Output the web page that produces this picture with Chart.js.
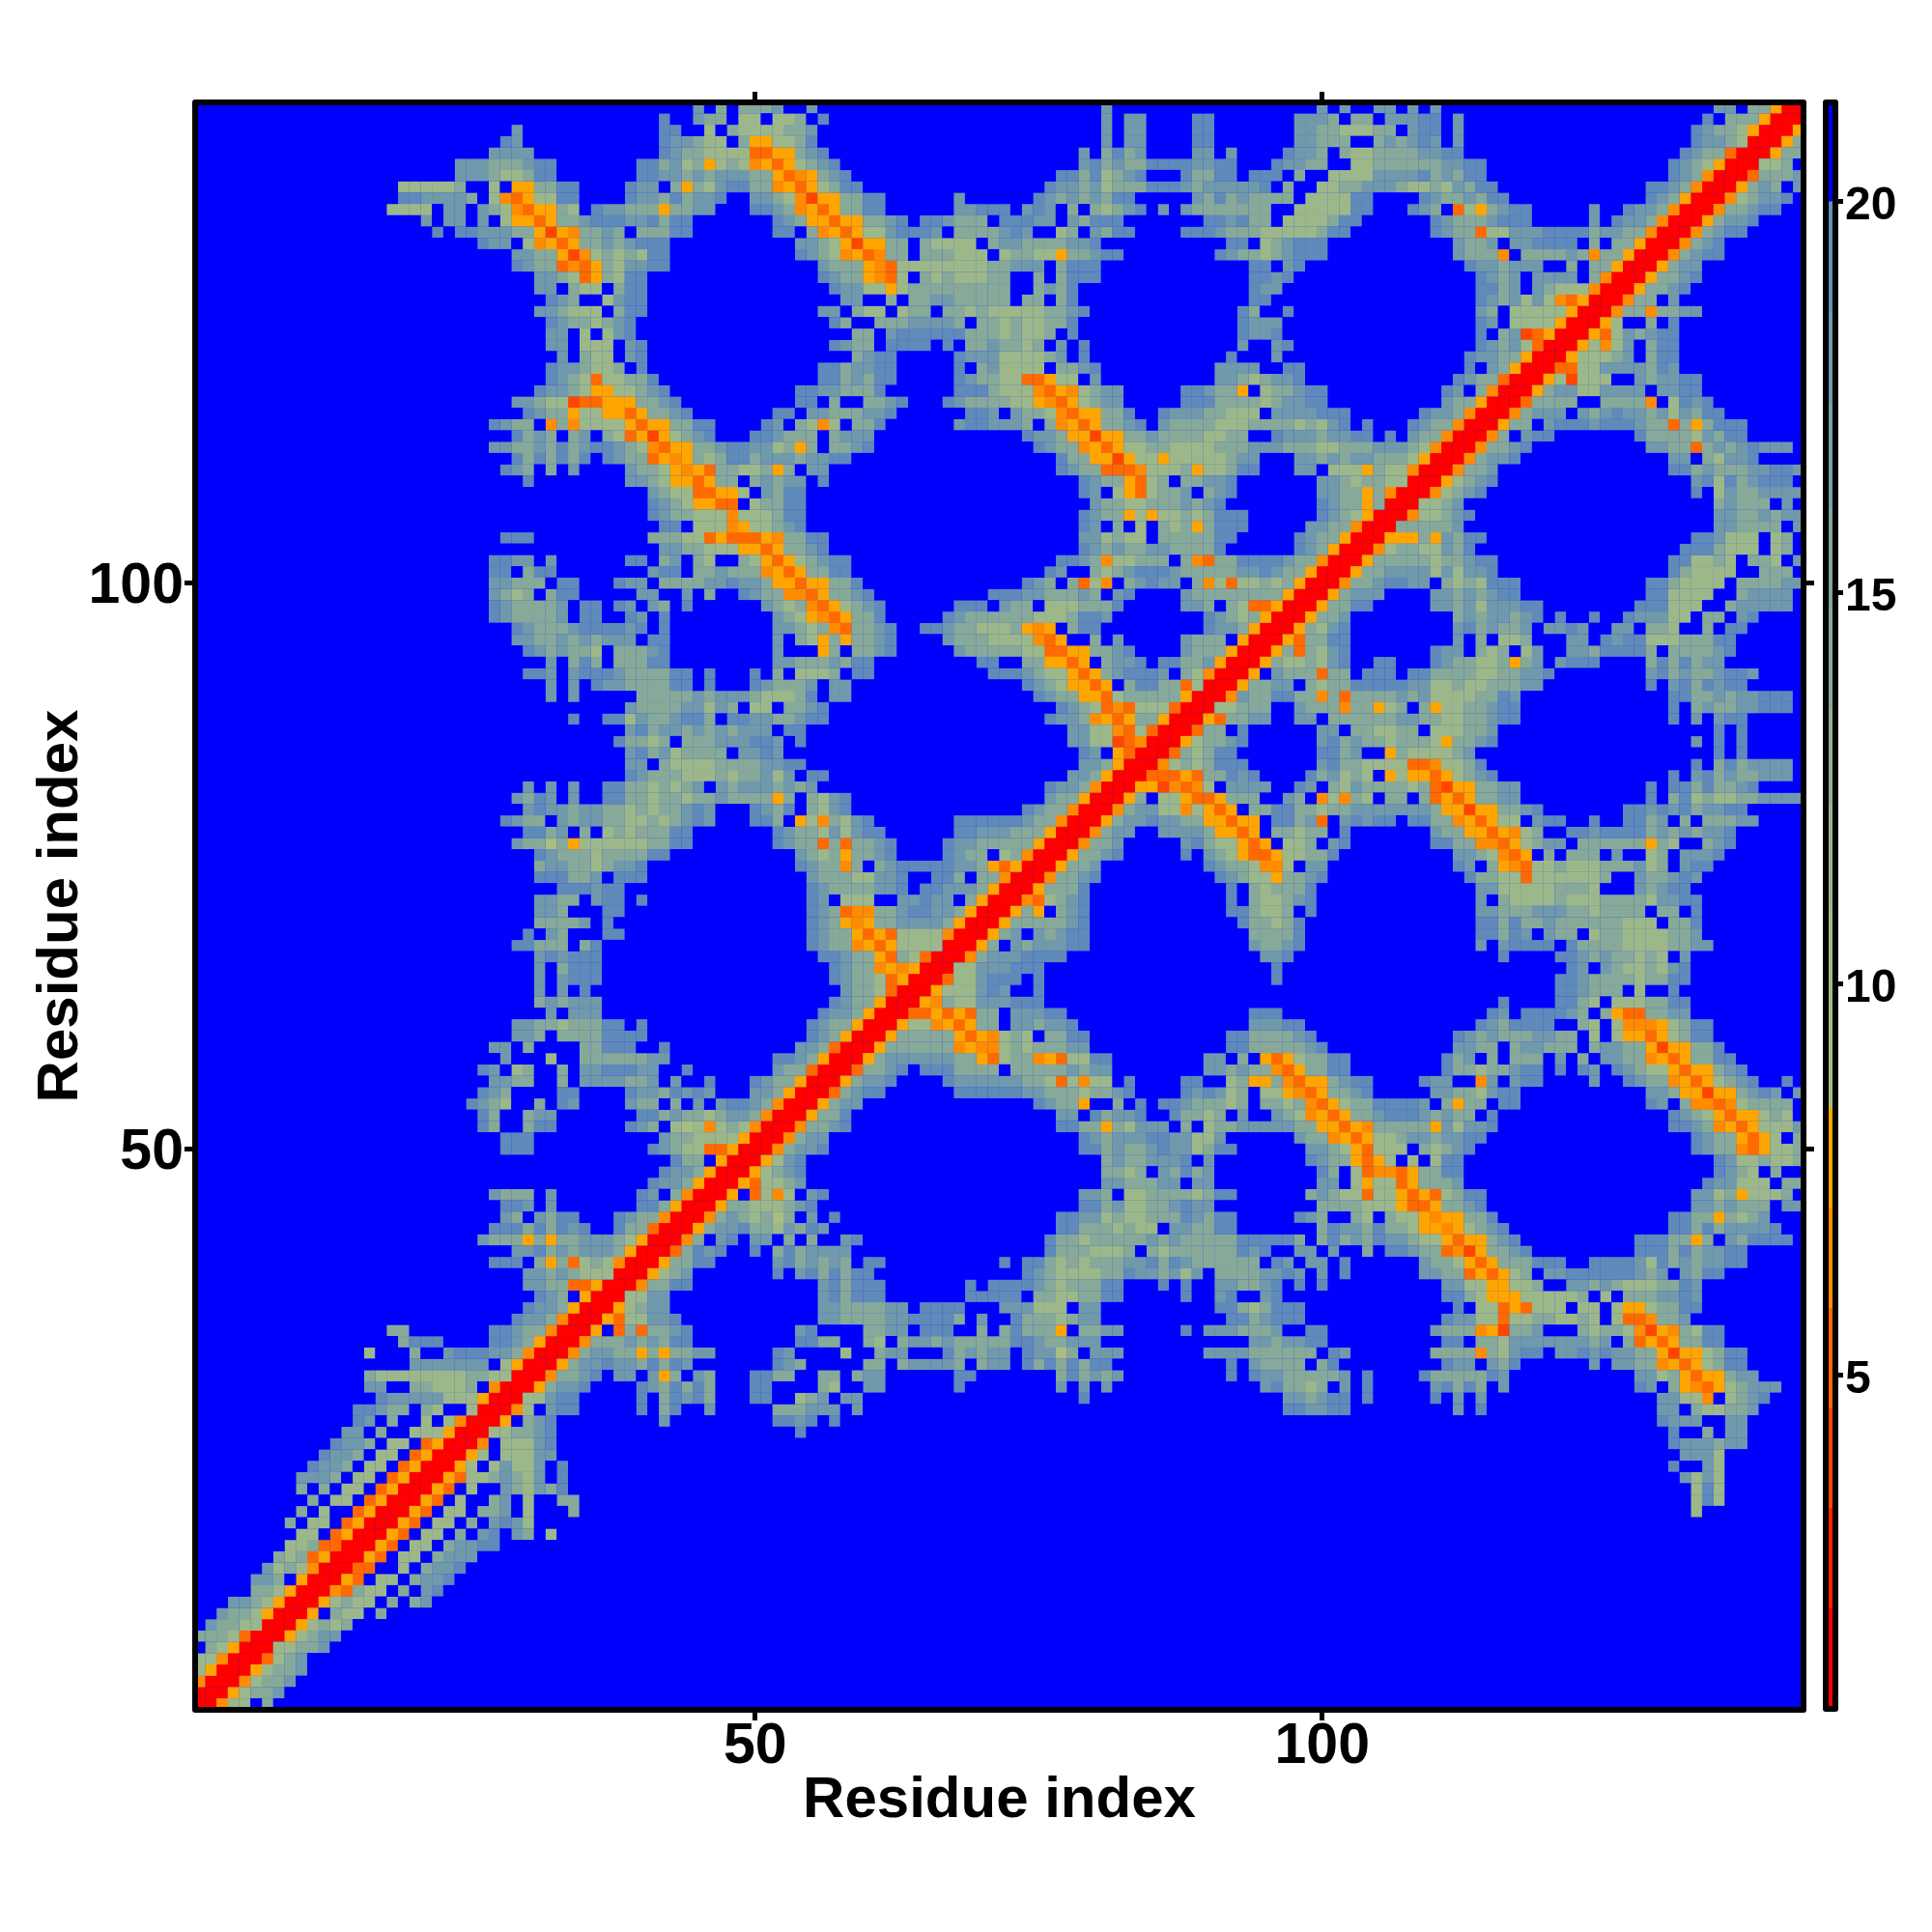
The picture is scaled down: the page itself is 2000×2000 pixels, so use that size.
<!DOCTYPE html>
<html>
<head>
<meta charset="utf-8">
<title>Residue distance map</title>
<script src="https://cdn.jsdelivr.net/npm/chart.js@4"></script>
<style>
  html, body { margin: 0; padding: 0; background: #fff; }
  canvas { position: absolute; top: 0; }
  #map { left: 0; }
  #bar { left: 1860px; }
</style>
</head>
<body>
<canvas id="map" width="2000" height="2000"></canvas>
<canvas id="bar" width="140" height="2000"></canvas>
<script>
// distance level of each cell code
const levelCodes = ['.', 'a', 'b', 'c', 'd', 'e', '1', '2', '3', '4', '5'];
const levelValues = [21, 19, 17, 14, 11, 9, 7.5, 6.5, 5.3, 4.2, 1.5];
const levelColors = ['#0000ff', '#5f8aba', '#7099ac', '#87a999', '#9cb88a', '#a8be7e', '#ffa500', '#ff8c00', '#ff6a00', '#ff4500', '#ff0000'];

const tickValues = [50, 100];
const barTickValues = [5, 10, 15, 20];
const barEdges = [0.74, 2.02, 3.3, 4.58, 5.86, 7.14, 8.42, 9.7, 11, 12.3, 13.5, 14.8, 16.1, 17.4, 18.6, 20, 21.27];
const barColors = ['#ff0000', '#ff2200', '#ff4500', '#ff6a00', '#ff8c00', '#ffa500', '#a6bd80', '#9fb986', '#97b38c', '#8fae92', '#87a898', '#7fa39e', '#779da5', '#6f98ab', '#648fb5', '#0000ff'];

const residueCount = 142;

// upper-left half of the symmetric map, top row (142) first.
// each segment is "firstColumn:cells"; anything not listed is blue.
const rowCells = [
  '45:b.c.cccb..b 81:b 100:b.b..bb.b.b 135:bb.cc155',
  '42:a 45:bcc.dd.ddc.a 81:b 83:bb 89:aa 98:bbbc.cc.bbbaa.b 134:a.ccc155',
  '29:b 42:aa 46:d.cddddccb 81:b 83:bb 89:aa 98:bbccdddcc.baa.b 133:abccd155',
  '28:ab 42:abbcdd.c11ddca 81:b 83:bb 89:aa 98:bbccc..cbcbab.b 133:abbcd55',
  '27:bbbb 42:abccdddd3311cba 79:b.cacb 89:bb.b 97:abbc.cddccccbbaa 132:abcc355',
  '24:bbbcccbaa 40:aacbdc1dcd2131dcba 79:bacbccaaaabbaa 96:abbcc..ddccccccbbaa 131:abcd155',
  '24:bbbcddcaa 40:aabbcbcbbbcc1321cba 77:aacadcba 88:accaa.aaa.c..ddddbbbbacbcaa 131:abc255',
  '19:dddddc..d.11ccaa 39:abb.c1cdbaacc2131dcaa 76:abbcbdcccaaabcbbbbba.c..ddccbbbcddcdbcaa 129:aabc255',
  '19:aabbbbc.d231ddaa 39:abbcacbba..bbcd2411ccaa 68:b 75:abcbcbcaa 89:bcacbcccc.ddddaa 109:abccbcaa 129:abc155',
  '18:dddd.bb.bcd2311cd.abbccc1ccbb 50:aabc2131ccaa 68:bbaaa.bab.c.cdcba.b.bccccccc..dddddaa 108:abc.3d1cbaa 124:b 127:abbc255',
  '21:b.bb.b.d1131ccbaaabbacaa 52:abc11311ccba.aabccc.aaabb.bcaaa 90:aabacc.ddddcaa 110:abcccbaaa 124:b 126:abbc255',
  '22:a.aabbbcc1412ccbc.cccaa 52:aa.c2131ddbaaab.ccccbab..dc.bcaa 88:aaabcccdddddcaa 110:abcc3ddbbbaaaacbbcc255',
  '26:abb.d2131ccbcbaaa 54:bbcd1411cc.cdddd.cbbccccbba 92:aa.dcbaaa 112:bccb.bbaaaa.c.cc155',
  '29:bbcc142dcdcdaa 54:abcd2132cc.cccddd.dccdd1ccbaa 91:abccdcbaaa 112:bccc2.ccccbc2cc155',
  '29:abcc3231cdbbaa 56:bccc123ddddddddccbbb.caaa 94:aa.ba 113:abbcbbb..c.cc155',
  '31:bbcd31cdaa 56:abcc123d.cdcdddcc..c.caaa 94:aaba 114:abcb.bbbb.c255',
  '31:bb.cdd.caa 57:abbdd1dccccccccc..cbca 94:abb 114:aacb.bcddd255',
  '32:abc..dbaa 58:bb..c.ccbbccccc.cc.ca 94:aa 114:abcbdbd23155',
  '31:bbcddd.caa 56:bb.cdd.dcc.ccdcdddddccba 93:ac..a 114:bc.ddddd155',
  '32:abccdcba 57:ac..cccbbbbc.ccdcddcca 93:abbb 114:ab.dddd155',
  '32:bb.d.dba 59:cc.baaaaaacccdcddc.a 93:abba 114:a.cb43155',
  '32:bb.ddd.ba 57:abcc.aaaa.a.ccbccdc.b.a 93:b 96:ba 114:abcbd355',
  '33:b.cdd.ba 59:cbaa 68:abbbddddcb.a 92:a 96:b 113:abbcc155',
  '32:abbcddc.a 56:aacbbaa 68:a.cbdddd.ccba 91:bbbb 97:aa 113:a.bc155',
  '32:abcd3ddcca 56:aacbcaa 68:abccdd331dd.b 91:bbcdcbba 112:abcc355',
  '31:abbcd11ddcba 54:aabbccca 68:aaacddd2312dcbb 88:aabcc1.dccbaa 111:ab.c255',
  '29:bbcdd433111ccba 54:aa.c..ccba 67:abccccdd1231dcbb 88:aaaccccdcbbaa 111:bcc155',
  '30:abcc1dd1131ccba 52:aa.bbcccbba 69:aab.bccd2311cca 86:abbbccddd.bbbbaaa 109:abbc255',
  '27:abcc.2c2dddd1311ccaa 51:ab.cd2d.cca 68:baabbbc.c2131ccba.bccccdddccccdcdba.a 108:abcc255',
  '29:acbc.cb.cd3141dcba 50:aabccc.cbbb 74:abbc11411ccbccccddcc..abbbcbbaa.a.bcc255',
  '27:bbccbcacbaabcd2311ccbaabbdc1c.ccba 75:abcc2131ddccddddcccbbbcccddcccbbbcd255',
  '29:acacaca.abcc3121cdcaacbbbcbbaa 77:acc1141dd1dddddcbb...bbcbcbbcccd155',
  '28:abc.c.b 39:bccd1213ccddc1c.bb 77:abcc3332dddc1ddcaa 98:bb.ddd1cdd255',
  '30:a 39:bbcd1131cc.cbcbb 56:a 79:abcc13dc.ccbba 100:bbcdccdd55',
  '41:bcdd3311d.bcaa 79:ab.d13dccb.cba 100:bbcc1c255',
  '41:abcd1133.dccaa 80:bccddcccbcba 100:abcc1c55',
  '41:abccddd2dddcaa 79:abcc1d1ddcdcaaa 100:abcd155',
  '42:aa.ddd21ddcba 79:ab.c.d.cdc1caaa 99:bbcc255',
  '28:aaa 41:cccdd3133312ccaa 79:bbdcdd.cccccaa 98:abcc155',
  '42:bbccddd1131ccba 79:abcbccbbcccca 98:abc155',
  '27:aabb.b 39:aa.cb.cd..cd131dcbaa 77:aabc2ddccc.c23ccaaaabcc255',
  '27:aa.caa 41:baa.ccbccc2131ccaa 76:ab..cdcbaaabcccccbbabcc155',
  '27:bbccc.aa 38:abb.ccccbbabbc11311cca 74:abc.c3d2.cbabb.c2d3ddcdc155',
  '27:bcdc.caa 40:bb..b.c..abcc2231ccba 71:aaabbcccbc.ba 88:bcccccccc155',
  '27:abccccb.aa 38:ab.bc.a 51:bcdc231dcba 68:aaa.bcc.dddccca 88:bbc.cd33155',
  '27:abccccb.aa 39:ab.a 52:bcd1231cca 67:abccccccdddcaab 90:abcdc155',
  '29:abcccbaaaaba.a 52:bbcdc23ccba 65:aabccdddc121.caa 90:abbc155',
  '29:bbccbcbcbbb.aa 52:b.cd1c1ccba 67:bcccdddd231..c.b 88:bccc.155',
  '30:abcbccd.cccba 52:b...1c.ccba 68:bcccccdd3311ccba 88:bccc155',
  '32:b.cac.cccaa 52:bbcccbcaa 70:aa..cc1131.cbba.aaccb155',
  '30:aab.baaabccccaa.a 50:a.c.dddc.aa 71:aaabcdd131cbaaab.cd255',
  '32:b.b.abbccccaa.a 50:abcccb.bb 74:abcd1131.caacc3d55',
  '32:b.b 40:cccccbcbbbcdddca.bb 75:abcc113dccccc155',
  '39:bccccbbdbc.dd.ccba 77:abcd323ddd355',
  '34:a 37:aadbccbaac.aabbccbaa 76:abbc2131cc155',
  '39:bacbbcbcbcbbb.aa 78:bbdd23d355',
  '38:accdc.cccbbbaab.a 78:bbdd43255',
  '39:bacbdcccc.bbab 79:ab.1355',
  '39:bb.cddddccccbbaa 79:bbc155',
  '39:abcccdddcdccbdb.aa 78:bbc155',
  '30:b.b.b..aaccdcdcb.bcbbbcbcb 76:abbc255',
  '29:bcab.b..aaccdccdccbcccc1c.cdba 76:bcc155',
  '30:babbcbbccdcdccbab 50:abca.cdba 74:abcc255',
  '28:abcc.bcbbccddcdcbab 50:aac.1d2cdba 68:aaaaaabcc255',
  '30:aacb.c.dcdcccaa 52:abccdbdbaa 68:aabbbccc155',
  '29:bccec1ddddddccaa 52:abcc3c3ccba 67:abbccccc155',
  '31:abcccdccccaa 54:bcdc1ccba 67:abcc.dc255',
  '31:cbbccdcbba 54:abcc2c.cbaaaaabbc13155',
  '31:aaaccb.aaa 55:bcccddbba..aac.cc255',
  '33:aaabaa 55:abccccbba.aabbbc155',
  '31:bbcc.baa.a 55:ab.ddd..bbabb.c155',
  '31:bbc...aa 55:abc322ccbaabbc155',
  '31:ccccb.a 55:abc121ccbbbbc155',
  '30:a.bc...aa 55:abcc1313dddd255',
  '29:aaccc.ca 55:abcc2131dddd55',
  '31:babaaa 56:aabcc13cd355',
  '31:b.caaa 57:abcc212155',
  '31:b.baaa 57:abccd3155',
  '31:b.b.a 58:bccd355',
  '31:cbcbbb 57:abcc155',
  '32:b.bbb 56:abbc155',
  '29:bbccdcccaa.a 55:abcc155',
  '29:bbc.ccccaaaa 55:abc155',
  '27:bb.c....ccaaa..a 54:bbc355',
  '28:b 32:d 35:ccccccbb 52:aabc155',
  '26:ab.dc..c.bbaaabb 44:a 52:bcc355',
  '27:bbcc..c.bbbbccb.b..a 50:abcc155',
  '26:abc 33:aa 39:abbcabab 50:bbc155',
  '25:abcd..c.ab 39:bcc.c.b.baabc255',
  '26:ac..cbb 40:aacbccdcbbc255',
  '26:ac..caa 39:abc.ded2dcd255',
  '28:aaa 42:bccdddd155',
  '28:aaa 41:abcdd33155',
  '43:acc.155',
  '42:abbc155',
  '41:abbc155',
  '27:bccc.b 40:ab.c255',
  '28:aab.b 40:aac155',
  '28:bc.bcaa 38:abcc255',
  '27:aaacacaba 38:acc355',
  '26:bccc1c1ccbbbcd155',
  '29:bbacbcbbbc155',
  '27:aaa.c1c3dcd255',
  '30:bbcbcddd55',
  '30:bbcc33155',
  '31:abc.155',
  '30:abbc155',
  '29:abbc255',
  '18:cc 27:aabcc255',
  '19:caaa 27:aabc155',
  '16:d 20:c..baaabbc255',
  '20:bbbbbbb.d155',
  '16:cddddddddccdd55',
  '16:bb..ccdddc.255',
  '17:abbbbbddd155',
  '15:aabcc.cd..d55',
  '15:ab.c..d.d255',
  '14:bb.c..ddd155',
  '13:abbc.dd.3155',
  '12:abbc.dd.3155',
  '11:abbc.dd.3155',
  '10:bbbc.dd.3155',
  '10:c.c.dd.3155',
  '11:c.dd.3155',
  '10:c.d..3155',
  '9:c.dd.3155',
  '10:dd.3155',
  '9:ddc3355',
  '8:cdc3155',
  '7:bdcd255',
  '6:bbc.155',
  '6:ccd155',
  '4:bbcd155',
  '3:bccd155',
  '2:bccdd55',
  '1:cccd355',
  '2:cd155',
  '1:dd255',
  '1:d155',
  '1:255',
  '1:55',
  '1:5',
];

const fontFamily = '"Liberation Sans", Arial, Helvetica, sans-serif';

// code grid, index [row][column], both 1-based
function buildGrid() {
  const grid = [];
  for (let j = 0; j <= residueCount; j++) grid.push(new Array(residueCount + 1).fill('.'));
  rowCells.forEach((line, idx) => {
    const row = residueCount - idx;
    line.split(' ').forEach(seg => {
      const [first, cells] = seg.split(':');
      [...cells].forEach((code, k) => {
        const col = Number(first) + k;
        grid[row][col] = code;
        grid[col][row] = code;
      });
    });
  });
  return grid;
}

function buildDatasets(grid) {
  return levelCodes.map((code, li) => {
    const points = [];
    for (let row = 1; row <= residueCount; row++) {
      for (let col = 1; col <= residueCount; col++) {
        if (grid[row][col] === code) points.push({ x: col, y: row, v: levelValues[li] });
      }
    }
    return {
      label: String(levelValues[li]),
      data: points,
      pointStyle: 'rect',
      pointRadius: 8.45,
      pointBorderWidth: 0,
      pointBackgroundColor: levelColors[li],
      showLine: false,
    };
  });
}

// blue under the cells so their soft edges don't show white seams
const plotBackground = {
  id: 'plotBackground',
  beforeDatasetsDraw(chart) {
    const { ctx, chartArea: a } = chart;
    ctx.save();
    ctx.fillStyle = levelColors[0];
    ctx.fillRect(a.left, a.top, a.right - a.left, a.bottom - a.top);
    ctx.restore();
  },
};

const framePlugin = {
  id: 'frame',
  afterDatasetsDraw(chart) {
    const { ctx, chartArea: a } = chart;
    ctx.save();
    ctx.strokeStyle = '#000';
    ctx.lineWidth = 6;
    ctx.lineJoin = 'round';
    ctx.strokeRect(a.left, a.top, a.right - a.left, a.bottom - a.top);
    ctx.restore();
  },
};

const setTicks = values => scale => { scale.ticks = values.map(v => ({ value: v })); };
const tickGrid = { drawOnChartArea: false, drawTicks: true, tickLength: 11, tickWidth: 5, tickColor: '#000' };
const noGrid = { drawOnChartArea: false, drawTicks: false };
const setSize = size => s => { if (s.isHorizontal()) s.height = size; else s.width = size; };

function axis(position, min, max, size, labels) {
  return {
    type: 'linear',
    position,
    min,
    max,
    afterBuildTicks: setTicks(tickValues),
    afterFit: setSize(size),
    grid: tickGrid,
    border: { display: false },
    ticks: {
      display: labels,
      autoSkip: false,
      maxRotation: 0,
      color: '#000',
      padding: 0,
      font: { family: fontFamily, weight: 'bold', size: 59 },
    },
  };
}

const xMin = 0.614, xMax = 142.44, yMin = 0.495, yMax = 142.47;
const titleFont = { family: fontFamily, weight: 'bold', size: 60 };

const xAxis = axis('bottom', xMin, xMax, 230, true);
xAxis.ticks.padding = -8;
xAxis.title = { display: true, text: 'Residue index', color: '#000', font: titleFont, padding: { top: 0, bottom: 100 } };

// y labels sit a little below their tick marks, so they get their own axis
const yTextAxis = axis('left', yMin + 0.34, yMax + 0.34, 190, true);
yTextAxis.weight = 1;
yTextAxis.grid = noGrid;
yTextAxis.title = { display: true, text: 'Residue index', color: '#000', font: titleFont, padding: { top: 27, bottom: 0 } };

new Chart(document.getElementById('map'), {
  type: 'scatter',
  data: { datasets: buildDatasets(buildGrid()) },
  options: {
    responsive: false,
    animation: false,
    events: [],
    layout: { padding: 0 },
    plugins: { legend: { display: false }, tooltip: { enabled: false } },
    scales: {
      x: xAxis,
      y: axis('left', yMin, yMax, 12, false),
      yText: yTextAxis,
      x2: axis('top', xMin, xMax, 106, false),
      y2: axis('right', yMin, yMax, 133, false),
    },
  },
  plugins: [plotBackground, framePlugin],
});

// colour key
new Chart(document.getElementById('bar'), {
  type: 'bar',
  data: {
    labels: ['key'],
    datasets: barColors.map((color, i) => ({
      data: [[barEdges[i], barEdges[i + 1]]],
      backgroundColor: color,
      borderWidth: 0,
      barPercentage: 1,
      categoryPercentage: 1,
      grouped: false,
    })),
  },
  options: {
    responsive: false,
    animation: false,
    events: [],
    layout: { padding: { left: 30, top: 106, bottom: 231, right: 0 } },
    plugins: { legend: { display: false }, tooltip: { enabled: false } },
    scales: {
      x: { display: false },
      y: {
        position: 'right',
        min: 0.74,
        max: 21.27,
        afterBuildTicks: setTicks(barTickValues),
        afterFit: setSize(10),
        grid: { drawOnChartArea: false, drawTicks: true, tickLength: 8, tickWidth: 5, tickColor: '#000' },
        border: { display: false },
        ticks: { display: false },
      },
      yText: {
        position: 'right',
        weight: 1,
        min: 0.74 + 0.062,
        max: 21.27 + 0.062,
        afterBuildTicks: setTicks(barTickValues),
        afterFit: setSize(90),
        grid: noGrid,
        border: { display: false },
        ticks: {
          autoSkip: false,
          color: '#000',
          padding: 0,
          font: { family: fontFamily, weight: 'bold', size: 48 },
        },
      },
    },
  },
  plugins: [framePlugin],
});
</script>
</body>
</html>
